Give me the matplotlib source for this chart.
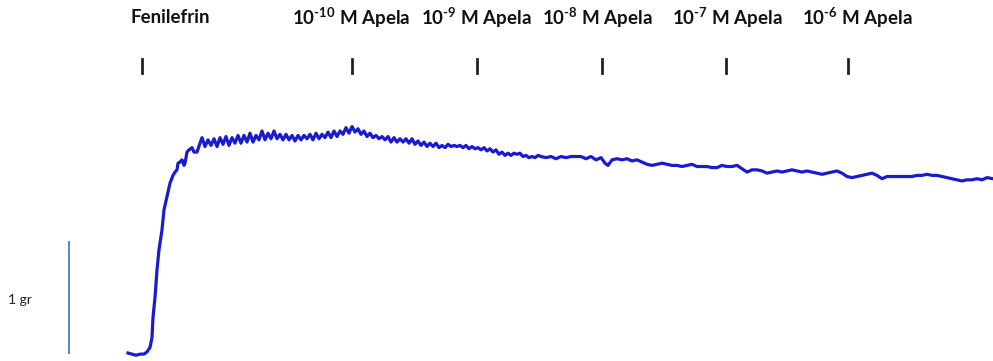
import matplotlib
matplotlib.use("Agg")
import matplotlib.pyplot as plt

# isometric tension trace, time in s, tension in g
time_s = [0, 8, 16, 24, 32, 38, 44, 48, 50, 54, 58, 62, 68, 72, 78, 84, 90, 94, 98, 100,
          104, 108, 112, 114, 118, 122, 128, 132, 138, 144, 148,
          154, 160, 166, 172, 178, 184, 190, 196, 202, 208, 214, 220, 226, 232, 238, 244,
          250, 256, 262, 268, 274, 280, 286, 292, 298, 304, 310, 316, 322, 328, 334, 340,
          346, 352, 358, 364, 370, 376, 382, 388, 394, 400, 406, 412, 418, 424, 430, 436,
          442, 448, 454, 460, 466, 472, 478, 484, 490, 496, 502, 508, 514, 520, 526, 532,
          538, 544, 550, 556, 562, 568, 574, 580, 586, 592, 598, 604, 610, 616, 622, 628,
          634, 640, 646, 652, 658, 664, 670, 676, 682, 688, 694, 700, 706, 712, 718, 724,
          730, 736, 742, 748, 754, 760, 766, 772, 778, 784, 790, 796, 802, 808, 814, 820,
          826, 836, 846, 856, 866, 876, 886, 896, 906, 916, 926, 936, 946, 954, 960, 968,
          978, 988, 998, 1008, 1018, 1028, 1038, 1048, 1058, 1068, 1078, 1088, 1098, 1108,
          1118, 1128, 1138, 1148, 1158, 1168, 1178, 1188, 1198, 1208, 1218, 1228, 1238,
          1248, 1258, 1268, 1278, 1288, 1298, 1308, 1318, 1328, 1338, 1348, 1358, 1368,
          1378, 1388, 1398, 1408, 1418, 1428, 1438, 1448, 1458, 1468, 1478, 1488, 1498,
          1508, 1518, 1528, 1538, 1548, 1558, 1568, 1578, 1588, 1598, 1608, 1618, 1628,
          1638, 1648, 1658, 1668, 1678, 1688, 1698, 1708, 1718, 1730]
tension_g = [0.00, -0.01, -0.02, -0.01, -0.01, 0.01, 0.05, 0.14, 0.32, 0.50, 0.75, 0.93,
             1.11, 1.29, 1.41, 1.53, 1.60, 1.63, 1.65, 1.71, 1.72, 1.74, 1.69, 1.71, 1.81,
             1.83, 1.85, 1.81, 1.81, 1.89, 1.94,
             1.86, 1.92, 1.87, 1.93, 1.86, 1.94, 1.88, 1.95, 1.87, 1.94, 1.89, 1.96, 1.89,
             1.96, 1.90, 1.98, 1.90, 1.96, 1.92, 2.00, 1.92, 1.98, 1.93, 2.00, 1.93, 1.97,
             1.92, 1.97, 1.92, 1.96, 1.91, 1.96, 1.92, 1.96, 1.93, 1.97, 1.92, 1.98, 1.93,
             1.97, 1.94, 1.99, 1.94, 2.00, 1.95, 2.00, 1.97, 2.03, 1.98, 2.04, 1.99, 2.02,
             1.97, 2.00, 1.95, 1.98, 1.94, 1.96, 1.93, 1.95, 1.92, 1.95, 1.90, 1.94, 1.90,
             1.93, 1.90, 1.93, 1.89, 1.93, 1.88, 1.91, 1.87, 1.90, 1.86, 1.89, 1.86, 1.89,
             1.85, 1.87, 1.85, 1.88, 1.86, 1.87, 1.86, 1.87, 1.85, 1.87, 1.84, 1.86, 1.84,
             1.85, 1.83, 1.85, 1.82, 1.84, 1.81, 1.83, 1.79, 1.81, 1.78, 1.80, 1.78, 1.80,
             1.79, 1.80, 1.77, 1.78, 1.76, 1.77, 1.76, 1.78, 1.77,
             1.76, 1.77, 1.75, 1.77, 1.76, 1.77, 1.77, 1.77, 1.75, 1.77, 1.74, 1.76, 1.71,
             1.69, 1.74, 1.75, 1.74, 1.75, 1.73, 1.74, 1.72, 1.70, 1.69, 1.70, 1.71, 1.70,
             1.69, 1.69, 1.68, 1.69, 1.70, 1.68, 1.68, 1.68, 1.67, 1.67, 1.69, 1.68, 1.68,
             1.69, 1.66, 1.63, 1.65, 1.65, 1.64, 1.62, 1.63, 1.64, 1.63, 1.64, 1.65, 1.64,
             1.63, 1.64, 1.63, 1.62, 1.61, 1.62, 1.63, 1.64, 1.62, 1.59, 1.58, 1.59, 1.60,
             1.61, 1.62, 1.60, 1.57, 1.59, 1.59, 1.59, 1.59, 1.59, 1.59, 1.60, 1.60, 1.61,
             1.60, 1.60, 1.59, 1.58, 1.57, 1.56, 1.55, 1.56, 1.56, 1.57, 1.56, 1.58, 1.57]

# additions
event_time_s = [28, 448, 698, 948, 1196, 1440]
event_labels = ["Fenilefrin", r"10$^{\text{-10}}$ M Apela", r"10$^{\text{-9}}$ M Apela",
                r"10$^{\text{-8}}$ M Apela", r"10$^{\text{-7}}$ M Apela",
                r"10$^{\text{-6}}$ M Apela"]
label_shift_s = [56, -2, -2, -10, 2, 18]

scale_g = 1.0
scale_label = "1 gr"

plt.rcParams["mathtext.fontset"] = "custom"
plt.rcParams["mathtext.rm"] = "Lato:bold"
plt.rcParams["mathtext.bf"] = "Lato:bold"
plt.rcParams["mathtext.default"] = "bf"

fig = plt.figure(figsize=(9.93, 3.61), dpi=100)
ax = fig.add_axes([0, 0, 1, 1])
ax.set_xlim(-256, 1730)
ax.set_ylim(-0.072, 3.18)
ax.axis("off")

ax.plot(time_s, tension_g, color="#1a1ace", lw=2.3, solid_joinstyle="round")

# event markers and labels
for t, lab, dx in zip(event_time_s, event_labels, label_shift_s):
    ax.plot([t, t], [2.52, 2.65], color="#222222", lw=2.0)
    ax.text(t + dx, 3.02, lab, ha="center", va="center", fontsize=13.5,
            fontweight="bold", family="Lato", color="#111111")

# scale bar
ax.plot([-118, -118], [0, scale_g], color="#5584bd", lw=1.4)
ax.text(-240, 0.48, scale_label, ha="left", va="center", fontsize=10,
        family="Lato", color="#222222")

fig.savefig("out.png", dpi=100)
